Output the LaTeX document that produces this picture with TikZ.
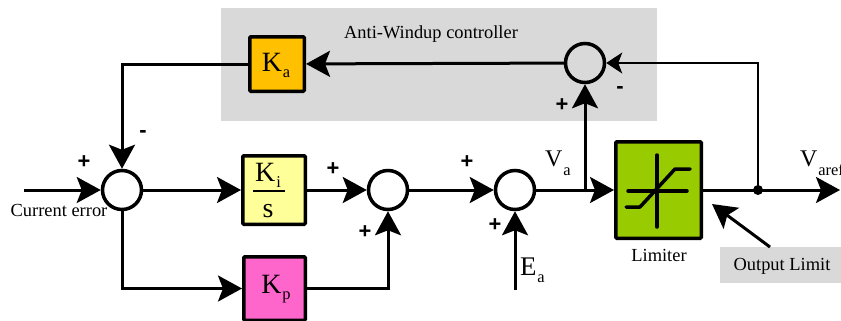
\documentclass[tikz,border=0pt]{standalone}
\usepackage{fontspec}
\setmainfont{Liberation Serif}
\newfontfamily\signfont{Liberation Sans}
\usetikzlibrary{arrows.meta}
\definecolor{bggray}{HTML}{D9D9D9}
\definecolor{kaorange}{HTML}{FFC000}
\definecolor{kiyellow}{HTML}{FFFF99}
\definecolor{kppink}{HTML}{FF66CC}
\definecolor{limgreen}{HTML}{99CC00}
% #1 main size, #2 drop, #3 main text, #4 subscript
\newcommand\symsub[4]{{\fontsize{#1}{#1}\selectfont #3}\hspace{1bp}\raisebox{-#2}{\fontsize{16.5}{18}\selectfont #4}}
\begin{document}
\begin{tikzpicture}[x=1bp,y=-1bp,
  font=\fontsize{18.5}{20}\selectfont,
  arr/.style={line width=3bp,-{Stealth[length=24bp,width=26bp,inset=5bp]}},
  thinarr/.style={line width=1.5bp,-{Stealth[length=16bp,width=21bp,inset=4bp]}},
  sumnode/.style={circle,draw,line width=3.5bp,minimum size=39bp,inner sep=0pt,fill=white},
  sumtop/.style={circle,draw,line width=3.5bp,minimum size=39bp,inner sep=0pt},
  blk/.style={rectangle,draw,line width=3.5bp,rounded corners=1bp,inner sep=0pt},
  lbl/.style={inner sep=0pt,outer sep=0pt},
  sign/.style={inner sep=0pt,outer sep=0pt,font=\signfont\bfseries\fontsize{22}{24}\selectfont}
]
\useasboundingbox (0,0) rectangle (841,320);
% background panels
\fill[bggray] (221,8) rectangle (657,121);
\fill[bggray] (720,247) rectangle (845,283);
% blocks
\node[blk,fill=kaorange,minimum width=54.5bp,minimum height=54.5bp] (ka) at (277,64) {};
\node[blk,fill=kiyellow,minimum width=62.5bp,minimum height=68.5bp] (ki) at (274,190) {};
\node[blk,fill=kppink,minimum width=61.5bp,minimum height=63.5bp] (kp) at (274.5,288.5) {};
\node[blk,fill=limgreen,minimum width=85.5bp,minimum height=96.5bp] (lim) at (658.5,190) {};
% summing junctions
\node[sumnode] (s1) at (122,190) {};
\node[sumnode] (s2) at (388,190) {};
\node[sumnode] (s3) at (515,190) {};
\node[sumtop] (s4) at (585,63) {};
% coordinates
\coordinate (in) at (24,190);
\coordinate (br) at (585,190);
\coordinate (out) at (840,190);
\coordinate (ea) at (515,290);
\coordinate (olstart) at (770,247);
\coordinate (oltip) at (712,204);
% connectors
\draw[arr] (in) -- (s1);
\draw[arr] (s1) -- (ki);
\draw[arr] (ki) -- (s2);
\draw[arr] (s2) -- (s3);
\draw[arr] (s3) -- (lim);
\draw[arr] (br) -- (s4);
\draw[arr] (lim) -- (out);
\node[circle,fill=black,inner sep=0pt,minimum size=10bp] (j) at (758,190) {};
\draw[thinarr] (j.center) |- (s4.east);
\draw[arr] (s4) -- (ka);
\draw[arr] (ka.west) -| (s1.north);
\draw[arr] (s1.south) |- (kp.west);
\draw[arr] (kp.east) -| (s2.south);
\draw[arr] (ea) -- (s3.south);
\draw[arr] (olstart) -- (oltip);
% limiter symbol
\draw[line width=3.5bp,line cap=round] (657,155) -- (657,227);
\draw[line width=3.5bp,line cap=round] (628,191) -- (687,191);
\draw[line width=3.5bp,line cap=round,line join=round] (626,207) -- (640,207) -- (675,169) -- (690,169);
% block texts
\node[lbl,anchor=base] at (276,71) {\symsub{28}{6bp}{K}{a}};
\node[lbl,anchor=base] at (268,181) {\symsub{28}{6bp}{K}{i}};
\draw[line width=1.5bp] (253,191) -- (285,191);
\node[lbl,anchor=base] at (268,217) {\fontsize{28}{30}\selectfont s};
\node[lbl,anchor=base] at (276,293) {\symsub{28}{6bp}{K}{p}};
% signal labels
\node[lbl,anchor=base west] at (545,166) {\symsub{24}{9bp}{V}{a}};
\node[lbl,anchor=base west] at (800,166) {\symsub{24}{9bp}{V}{aref}};
\node[lbl,anchor=base west] at (520,275) {\symsub{27}{7bp}{E}{a}};
\node[lbl,anchor=base] at (59,216) {Current error};
\node[lbl,anchor=base] at (659,261) {Limiter};
\node[lbl,anchor=base] at (782,270) {Output Limit};
\node[lbl] at (431,34) {Anti-Windup controller};
% signs
\node[sign] at (143,134) {-};
\node[sign] at (84,162) {+};
\node[sign] at (333,169) {+};
\node[sign] at (365,232) {+};
\node[sign] at (467,162) {+};
\node[sign] at (495,225) {+};
\node[sign] at (562,105) {+};
\node[sign] at (620,90) {-};
\end{tikzpicture}
\end{document}
